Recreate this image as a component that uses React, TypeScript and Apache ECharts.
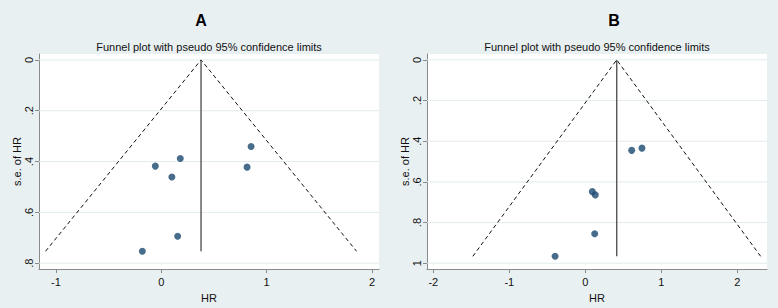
import React, { useEffect, useRef } from "react";
import * as echarts from "echarts";

// Panel A data (HR, s.e. of HR)
const hrA = [-0.18, 0.155, -0.057, 0.18, 0.1, 0.852, 0.814];
const seA = [0.753, 0.694, 0.418, 0.388, 0.461, 0.341, 0.422];
const thetaA = 0.377;

// Panel B data
const hrB = [-0.398, 0.123, 0.092, 0.131, 0.61, 0.745];
const seB = [0.966, 0.855, 0.648, 0.664, 0.445, 0.434];
const thetaB = 0.413;

const xTicksA = [-1, 0, 1, 2];
const xTicksB = [-2, -1, 0, 1, 2];
const yTicksA = [0, 0.2, 0.4, 0.6, 0.8];
const yTicksB = [0, 0.2, 0.4, 0.6, 0.8, 1];
const yLabel = (v: number) => (v === 0 ? "0" : v === 1 ? "1" : String(Number(v.toFixed(1))).replace(/^0/, ""));

const panelTitles = ["A", "B"];
const subTitle = "Funnel plot with pseudo 95% confidence limits";

const FONT = "'Liberation Sans', Arial, sans-serif";
const BG = "#e9f0f2";

function funnel(theta: number, se: number[]) {
  const m = Math.max(...se);
  return [
    [theta - 1.96 * m, m],
    [theta, 0],
    [theta + 1.96 * m, m],
  ];
}

export default function App() {
  const ref = useRef<HTMLDivElement>(null);
  useEffect(() => {
    if (!ref.current) return;
    const chart = echarts.init(ref.current, undefined, { renderer: "svg" });
    const xAxisBase = (min: number, max: number, ticks: number[], gridIndex: number) => ({
      type: "value",
      gridIndex,
      min,
      max,
      name: "HR",
      nameLocation: "middle",
      nameGap: 15,
      nameTextStyle: { fontFamily: FONT, fontSize: 11, color: "#111" },
      axisLine: { show: true, onZero: false, lineStyle: { color: "#8a8a8a", width: 1 } },
      axisTick: { show: true, length: 4, customValues: ticks, lineStyle: { color: "#8a8a8a" } },
      axisLabel: {
        customValues: ticks,
        margin: 7,
        fontFamily: FONT,
        fontSize: 11,
        color: "#111",
      },
      splitLine: { show: false },
    });
    const yAxisBase = (min: number, max: number, ticks: number[], gridIndex: number) => ({
      type: "value",
      gridIndex,
      inverse: true,
      min,
      max,
      name: "s.e. of HR",
      nameLocation: "middle",
      nameGap: 11,
      nameTextStyle: { fontFamily: FONT, fontSize: 11, color: "#111" },
      axisLine: { show: true, onZero: false, lineStyle: { color: "#8a8a8a", width: 1 } },
      axisTick: { show: true, length: 4, customValues: ticks, lineStyle: { color: "#8a8a8a" } },
      axisLabel: {
        customValues: ticks,
        rotate: 90,
        margin: 5,
        fontFamily: FONT,
        fontSize: 11,
        color: "#111",
        formatter: (v: number) => yLabel(v),
      },
      splitLine: { show: false },
    });
    const gridLines = (ticks: number[], gi: number, xmin: number, xmax: number) =>
      ticks.map((t) => ({
        type: "line",
        xAxisIndex: gi,
        yAxisIndex: gi,
        data: [
          [xmin, t],
          [xmax, t],
        ],
        symbol: "none",
        silent: true,
        z: 0,
        lineStyle: { color: "#e3ebee", width: 1 },
      }));
    const xrA = [-1.161, 2.066];
    const xrB = [-2.083, 2.39];
    const mA = Math.max(...seA);
    const mB = Math.max(...seB);
    chart.setOption({
      animation: false,
      backgroundColor: BG,
      grid: [
        { left: 39, top: 54, width: 340, height: 219, show: true, backgroundColor: "#ffffff", borderWidth: 0 },
        { left: 427, top: 54, width: 340, height: 219, show: true, backgroundColor: "#ffffff", borderWidth: 0 },
      ],
      xAxis: [xAxisBase(xrA[0], xrA[1], xTicksA, 0), xAxisBase(xrB[0], xrB[1], xTicksB, 1)],
      yAxis: [yAxisBase(-0.0232, 0.8232, yTicksA, 0), yAxisBase(-0.0289, 1.0289, yTicksB, 1)],
      graphic: [
        { type: "text", x: 201, y: 20, style: { text: panelTitles[0], font: `bold 16px ${FONT}`, fill: "#000", align: "center", verticalAlign: "middle" } },
        { type: "text", x: 614, y: 20, style: { text: panelTitles[1], font: `bold 16px ${FONT}`, fill: "#000", align: "center", verticalAlign: "middle" } },
        { type: "text", x: 209, y: 47, style: { text: subTitle, font: `11px ${FONT}`, fill: "#111", align: "center", verticalAlign: "middle" } },
        { type: "text", x: 597, y: 47, style: { text: subTitle, font: `11px ${FONT}`, fill: "#111", align: "center", verticalAlign: "middle" } },
      ],
      series: [
        ...gridLines(yTicksA, 0, xrA[0], xrA[1]),
        ...gridLines(yTicksB, 1, xrB[0], xrB[1]),
        {
          type: "line",
          xAxisIndex: 0,
          yAxisIndex: 0,
          data: funnel(thetaA, seA),
          symbol: "none",
          silent: true,
          lineStyle: { color: "#111", width: 1, type: [4, 3] },
        },
        {
          type: "line",
          xAxisIndex: 0,
          yAxisIndex: 0,
          data: [
            [thetaA, 0],
            [thetaA, mA],
          ],
          symbol: "none",
          silent: true,
          lineStyle: { color: "#555", width: 1.4 },
        },
        {
          type: "scatter",
          xAxisIndex: 0,
          yAxisIndex: 0,
          data: hrA.map((h, i) => [h, seA[i]]),
          symbolSize: 7,
          itemStyle: { color: "#1a476f" },
          z: 5,
        },
        {
          type: "line",
          xAxisIndex: 1,
          yAxisIndex: 1,
          data: funnel(thetaB, seB),
          symbol: "none",
          silent: true,
          lineStyle: { color: "#111", width: 1, type: [4, 3] },
        },
        {
          type: "line",
          xAxisIndex: 1,
          yAxisIndex: 1,
          data: [
            [thetaB, 0],
            [thetaB, mB],
          ],
          symbol: "none",
          silent: true,
          lineStyle: { color: "#555", width: 1.4 },
        },
        {
          type: "scatter",
          xAxisIndex: 1,
          yAxisIndex: 1,
          data: hrB.map((h, i) => [h, seB[i]]),
          symbolSize: 7,
          itemStyle: { color: "#1a476f" },
          z: 5,
        },
      ],
    });
    return () => chart.dispose();
  }, []);
  return <div ref={ref} style={{ position: "absolute", left: 0, top: 0, width: 778, height: 308 }} />;
}
